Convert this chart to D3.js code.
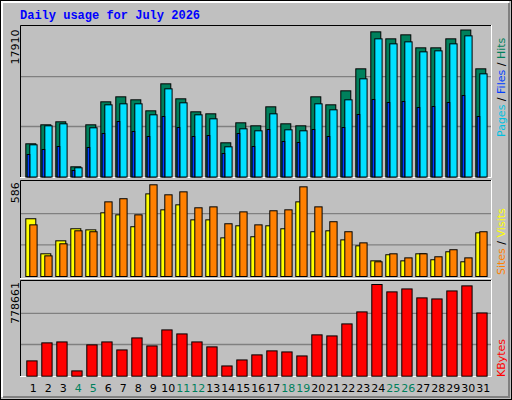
<!DOCTYPE html>
<html><head><meta charset="utf-8">
<script src="https://cdn.jsdelivr.net/npm/d3@7/dist/d3.min.js"></script>
<style>body{margin:0;background:#fff}svg{display:block}</style></head>
<body><svg id="c" width="512" height="400"></svg>
<script>
const days = d3.range(1, 32);
const weekend = [4,5,11,12,18,19,25,26];
const hits  = [4044,6358,6723,1242,6358,9159,9768,9403,8063,11352,9525,7941,7698,4166,6602,6236,8550,6480,6236,9768,8794,10499,13179,17685,16833,17320,15737,15737,16833,17910,13179];
const files = [3922,6236,6480,1121,5993,8794,8916,8916,7576,10743,9038,7576,7089,3678,5871,5627,7698,5749,5627,8916,8185,9403,11961,16833,16224,16467,15249,15371,16224,17198,12570];
const pages = [2741,3350,3715,792,3593,5298,6760,5542,4933,7369,6029,4933,5055,2862,5298,3715,5786,4324,4202,5786,4933,6029,7613,9440,9074,9196,8465,8587,9074,9927,7369];
const sites  = [369,145,228,305,298,407,394,318,528,426,458,362,362,247,324,254,324,305,477,286,292,234,196,100,139,100,145,107,158,94,279];
const visits = [330,132,209,292,286,477,497,394,586,522,541,439,445,337,413,330,420,426,573,445,350,286,215,94,145,119,145,126,171,119,286];
const kbytes = [130000,283000,291000,45000,266000,291000,223000,325000,257000,393000,359000,291000,249000,87000,138000,181000,215000,206000,172000,351000,342000,444000,546000,778661,716000,741000,665000,656000,724000,767000,537000];
const maxLabels = ["17910","586","778661"];

const svg = d3.select("#c");
svg.append("rect").attr("x",0.5).attr("y",0.5).attr("width",511).attr("height",399).attr("fill","#C0C0C0").attr("stroke","#000");
svg.append("path").attr("d","M2,397V2H509").attr("fill","none").attr("stroke","#fff").attr("stroke-width",2);
svg.append("path").attr("d","M509,3V397H3").attr("fill","none").attr("stroke","#808080").attr("stroke-width",2);

svg.append("text").attr("x",20).attr("y",19).text("Daily usage for July 2026")
  .attr("font-family","Liberation Mono").attr("font-weight","bold").attr("font-size",12).attr("fill","#0000FF");

const x = d3.scaleBand().domain(days).range([25.3, 25.3+15*31]).paddingInner(0);
const panels = [
  {y0:25, y1:178, base:176.5, top:29.5, max:17910},
  {y0:180, y1:279, base:276, top:184.3, max:586},
  {y0:280, y1:377, base:375.7, top:284, max:778661}
];
panels.forEach((p,i)=>{
  svg.append("rect").attr("x",20).attr("y",p.y0).attr("width",471).attr("height",p.y1-p.y0).attr("fill","#C0C0C0");
  svg.append("path").attr("d",`M20.5,${p.y1}V${p.y0+0.5}H491`).attr("fill","none").attr("stroke","#000");
  svg.append("path").attr("d",`M491.5,${p.y0}V${p.y1-0.5}H20`).attr("fill","none").attr("stroke","#fff");
  p.y = d3.scaleLinear().domain([0,p.max]).range([p.base,p.top]);
  const g = (p.base - p.top)/3*1.02;
  [1,2].forEach(k=>svg.append("line").attr("x1",21).attr("x2",491).attr("y1",p.base-g*k).attr("y2",p.base-g*k).attr("stroke","#808080").attr("stroke-width",1.3));
  svg.append("text").attr("transform",`translate(19,${p.top+(i==0?0:-2)}) rotate(-90)`).attr("text-anchor","end")
    .attr("font-family","DejaVu Sans").attr("font-size",11).attr("fill","#000").text(maxLabels[i]);
});

function bars(data, p, dx, w, color){
  svg.append("g").selectAll("rect").data(data).join("rect")
    .attr("x",(d,i)=>x(days[i])+dx+0.5).attr("width",w)
    .attr("y",d=>p.y(d)+0.5).attr("height",d=>p.base-p.y(d))
    .attr("fill",color).attr("stroke","#000").attr("stroke-width",1);
}
const [P1,P2,P3]=panels;
bars(hits,P1,0,10,"#00805C");
bars(files,P1,4,7.3,"#00E0FF");
bars(pages,P1,1.3,2.7,"#0040FF");
bars(sites,P2,0,10,"#FFFF00");
bars(visits,P2,4,7.3,"#FF8000");
bars(kbytes,P3,1,10.3,"#FF0000");

svg.append("g").selectAll("text").data(days).join("text")
  .attr("x",d=>x(d)+8).attr("y",392).attr("text-anchor","middle")
  .attr("font-family","DejaVu Sans").attr("font-size",11)
  .attr("fill",d=>weekend.includes(d)?"#00805C":"#000").text(d=>d);

function legend(parts, yBottom){
  const t = svg.append("text").attr("transform",`translate(505,${yBottom}) rotate(-90)`)
    .attr("font-family","DejaVu Sans").attr("font-size",11);
  parts.forEach(([s,c])=>t.append("tspan").attr("fill",c).text(s));
}
legend([["Pages","#00C0E0"],[" / ","#000"],["Files","#0040FF"],[" / ","#000"],["Hits","#00805C"]],137);
legend([["Sites","#FF8000"],[" / ","#000"],["Visits","#FFFF00"]],275);
legend([["KBytes","#FF0000"]],377);
</script></body></html>
